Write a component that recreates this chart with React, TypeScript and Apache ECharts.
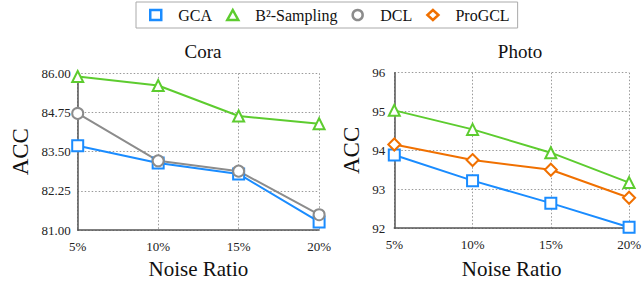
import React, { useEffect, useRef } from "react";
import * as echarts from "echarts";

const categories = ["5%", "10%", "15%", "20%"];

const coraGCA = [83.69, 83.14, 82.79, 81.26];
const coraB2 = [85.9, 85.61, 84.64, 84.39];
const coraDCL = [84.72, 83.21, 82.88, 81.49];

const photoGCA = [93.88, 93.22, 92.64, 92.02];
const photoB2 = [95.03, 94.54, 93.94, 93.17];
const photoProGCL = [94.15, 93.75, 93.5, 92.78];

const coraTicks = [81, 82.25, 83.5, 84.75, 86];

const BLUE = "#1a8cff";
const GREEN = "#5dcc2f";
const GRAY = "#8c8c8c";
const ORANGE = "#f07000";
const FONT = "'Liberation Serif', 'Times New Roman', serif";

export default function App() {
  const ref = useRef<HTMLDivElement>(null);
  useEffect(() => {
    if (!ref.current) return;
    const chart = echarts.init(ref.current, undefined, { renderer: "svg" });
    const axisLine = { show: true, lineStyle: { color: "#555", width: 1.5 } };
    const splitLine = { show: true, lineStyle: { color: "#999", type: [1.5, 2], width: 1 } };
    const xAxisBase = (gridIndex: number, gap: number) => ({
      type: "category",
      gridIndex,
      data: categories,
      boundaryGap: false,
      axisLine,
      axisTick: { show: false },
      splitLine,
      axisLabel: { fontFamily: FONT, fontSize: 13, color: "#222", margin: 10 },
      name: "Noise Ratio",
      nameLocation: "middle",
      nameGap: gap,
      nameTextStyle: { fontFamily: FONT, fontSize: 21, color: "#111" },
    });
    const mk = (name: string, data: number[], color: string, symbol: string, idx: number, size = 10) => ({
      type: "line",
      name,
      data,
      xAxisIndex: idx,
      yAxisIndex: idx,
      symbol,
      symbolSize: size,
      showAllSymbol: true,
      lineStyle: { color, width: 2 },
      itemStyle: { color: "#fff", borderColor: color, borderWidth: 2 },
    });
    chart.setOption({
      animation: false,
      backgroundColor: "#fff",
      title: [
        { text: "Cora", left: 198, top: 37, textAlign: "center", textStyle: { fontFamily: FONT, fontSize: 19, fontWeight: "normal", color: "#111" } },
        { text: "Photo", left: 515, top: 37, textAlign: "center", textStyle: { fontFamily: FONT, fontSize: 19, fontWeight: "normal", color: "#111" } },
      ],
      legend: {
        top: 2,
        left: 136,
        padding: [5, 8, 5, 13],
        borderColor: "#aaa",
        borderWidth: 1,
        itemGap: 14,
        itemWidth: 11,
        itemHeight: 10,
        textStyle: { fontFamily: FONT, fontSize: 16, color: "#111", padding: [0, 0, 0, 12] },
        data: [
          { name: "GCA", icon: "rect", itemStyle: { color: "#fff", borderColor: BLUE, borderWidth: 2.5 } },
          { name: "B²-Sampling", icon: "triangle", itemStyle: { color: "#fff", borderColor: GREEN, borderWidth: 2.5 } },
          { name: "DCL", icon: "circle", itemStyle: { color: "#fff", borderColor: GRAY, borderWidth: 2.5 } },
          { name: "ProGCL", icon: "diamond", itemStyle: { color: "#fff", borderColor: ORANGE, borderWidth: 2.5 } },
        ],
      },
      grid: [
        { left: 77.7, top: 73.3, width: 241.4, height: 160.7 },
        { left: 394.3, top: 72.7, width: 241.7, height: 159.6 },
      ],
      xAxis: [xAxisBase(0, 26), xAxisBase(1, 30)],
      yAxis: [
        {
          type: "value",
          gridIndex: 0,
          min: 81,
          max: 86,
          axisLine,
          axisTick: { show: false, customValues: coraTicks },
          splitLine,
          axisLabel: {
            customValues: coraTicks,
            formatter: (v: number) => v.toFixed(2),
            fontFamily: FONT,
            fontSize: 13,
            color: "#222",
            margin: 7,
          },
          name: "ACC",
          nameLocation: "middle",
          nameGap: 46,
          nameRotate: 90,
          nameTextStyle: { fontFamily: FONT, fontSize: 23, color: "#111" },
        },
        {
          type: "value",
          gridIndex: 1,
          min: 92,
          max: 96,
          interval: 1,
          axisLine,
          axisTick: { show: false },
          splitLine,
          axisLabel: { fontFamily: FONT, fontSize: 13, color: "#222", margin: 9 },
          name: "ACC",
          nameLocation: "middle",
          nameGap: 31,
          nameRotate: 90,
          nameTextStyle: { fontFamily: FONT, fontSize: 23, color: "#111" },
        },
      ],
      series: [
        mk("GCA", coraGCA, BLUE, "rect", 0, 11),
        mk("B²-Sampling", coraB2, GREEN, "triangle", 0, 11),
        mk("DCL", coraDCL, GRAY, "circle", 0, 11),
        mk("GCA", photoGCA, BLUE, "rect", 1, 11),
        mk("B²-Sampling", photoB2, GREEN, "triangle", 1, 11),
        mk("ProGCL", photoProGCL, ORANGE, "diamond", 1, 12),
      ],
    });
    return () => chart.dispose();
  }, []);
  return <div ref={ref} style={{ position: "fixed", left: 0, top: 0, width: 644, height: 284 }} />;
}
